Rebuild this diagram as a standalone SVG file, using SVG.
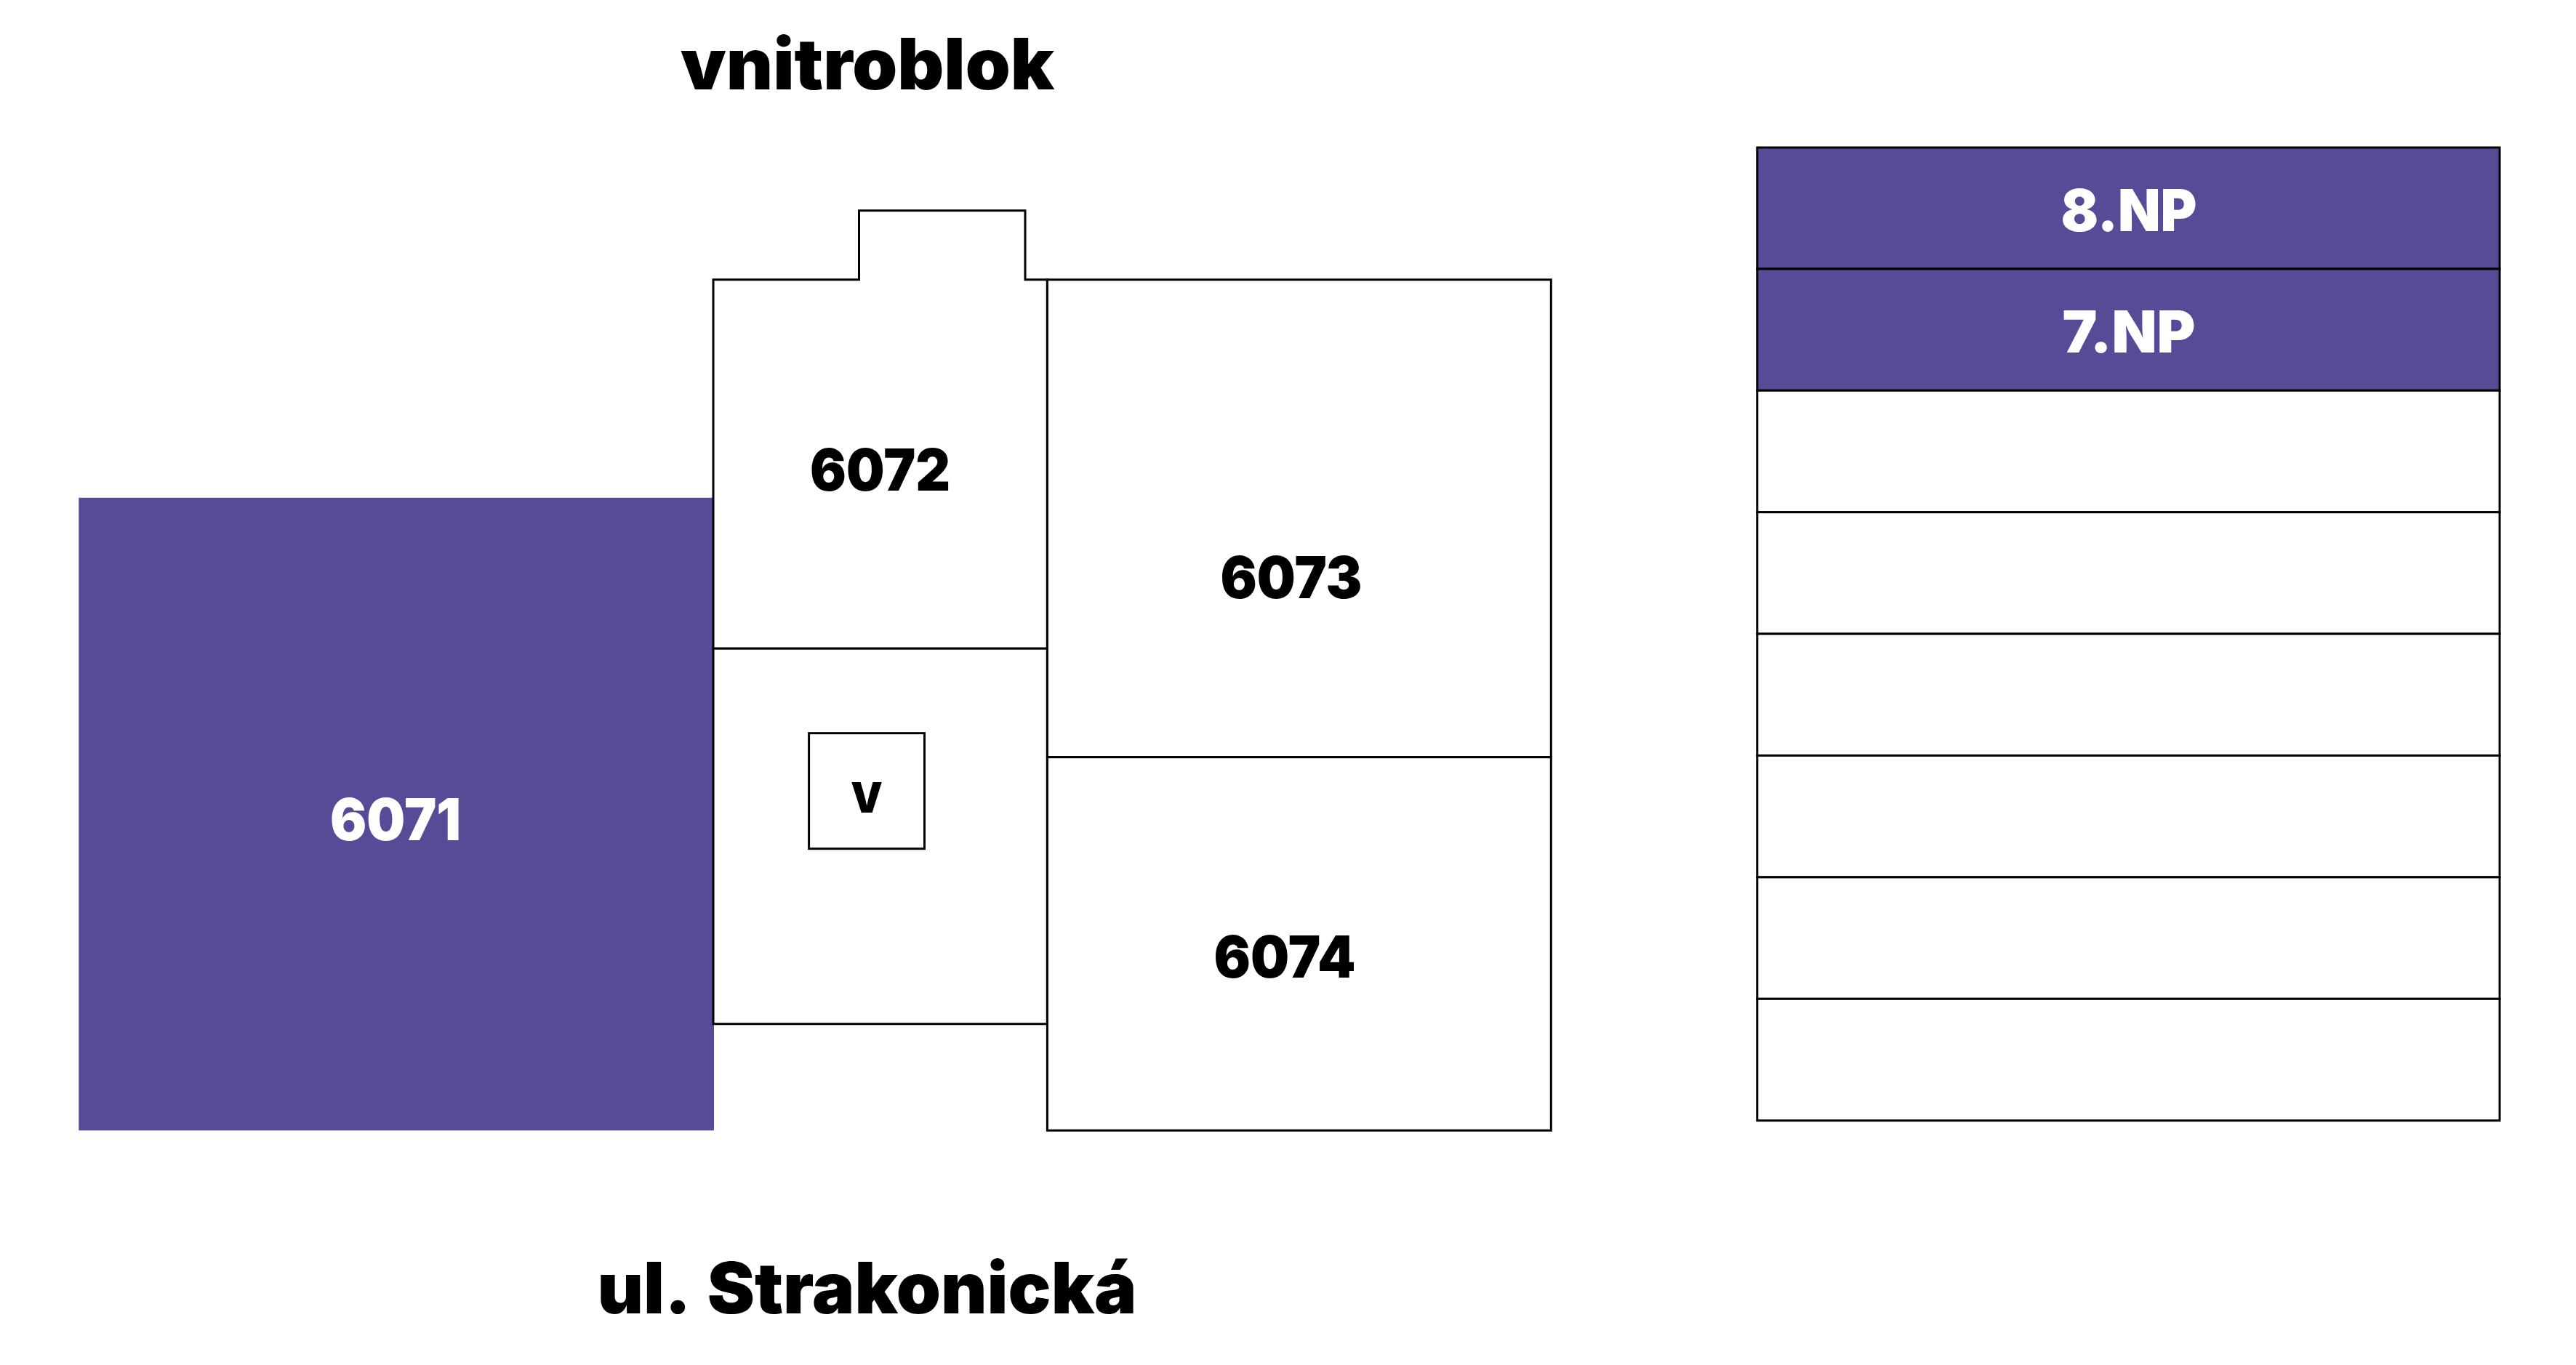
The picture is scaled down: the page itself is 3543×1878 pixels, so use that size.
<svg xmlns="http://www.w3.org/2000/svg" width="3543" height="1878" viewBox="0 0 3543 1878">
<style>
.box{fill:#fff;stroke:#000;stroke-width:3}
.fill{fill:#574a96;stroke:#000;stroke-width:3}
text{font-family:"Inter","Liberation Sans",sans-serif;font-weight:900;fill:#000;text-anchor:middle}
.num{font-size:80px}
.np{font-size:80px;fill:#fff}
.head{font-size:97px}
</style>
<rect width="3543" height="1878" fill="#fff"/>
<g id="title-top"><text class="head" x="1193" y="122.7" textLength="514" lengthAdjust="spacingAndGlyphs">vnitroblok</text></g>
<g id="title-bottom"><text class="head" x="1192.5" y="1806.7" textLength="742" lengthAdjust="spacingAndGlyphs" word-spacing="8">ul. Strakonická</text></g>
<g id="unit-6071">
<rect x="108.3" y="684.8" width="873.7" height="870.5" fill="#574a96"/>
<text class="num" x="544" y="1156" style="fill:#fff" textLength="180" lengthAdjust="spacingAndGlyphs">6071</text>
</g>
<g id="unit-6072">
<path class="box" d="M981 892.3V384.8H1181.5V289.8H1410V384.8H1440.4V892.3Z"/>
<text class="num" x="1210.5" y="675" textLength="193" lengthAdjust="spacingAndGlyphs">6072</text>
</g>
<g id="core">
<path class="box" d="M981 892.3H1440.4V1408.7H981Z"/>
<rect class="box" x="1112.6" y="1008.7" width="158.9" height="159"/>
<text x="1192" y="1117.7" font-size="58" textLength="44" lengthAdjust="spacingAndGlyphs">V</text>
</g>
<g id="unit-6073">
<rect class="box" x="1440.4" y="384.8" width="692.9" height="656.9"/>
<text class="num" x="1776" y="823" textLength="195" lengthAdjust="spacingAndGlyphs">6073</text>
</g>
<g id="unit-6074">
<rect class="box" x="1440.4" y="1041.7" width="692.9" height="513.6"/>
<text class="num" x="1767" y="1345" textLength="195" lengthAdjust="spacingAndGlyphs">6074</text>
</g>
<g id="floors">
<rect class="fill" x="2416.8" y="203" width="1021.2" height="167"/>
<rect class="fill" x="2416.8" y="370" width="1021.2" height="167.3"/>
<rect class="box" x="2416.8" y="537.3" width="1021.2" height="167.4"/>
<rect class="box" x="2416.8" y="704.7" width="1021.2" height="167.4"/>
<rect class="box" x="2416.8" y="872.1" width="1021.2" height="167.4"/>
<rect class="box" x="2416.8" y="1039.5" width="1021.2" height="167.4"/>
<rect class="box" x="2416.8" y="1206.9" width="1021.2" height="167.4"/>
<rect class="box" x="2416.8" y="1374.3" width="1021.2" height="167.4"/>
<text class="np" x="2928" y="317.7" textLength="187" lengthAdjust="spacingAndGlyphs">8.NP</text>
<text class="np" x="2928" y="485" textLength="183" lengthAdjust="spacingAndGlyphs">7.NP</text>
</g>
</svg>
